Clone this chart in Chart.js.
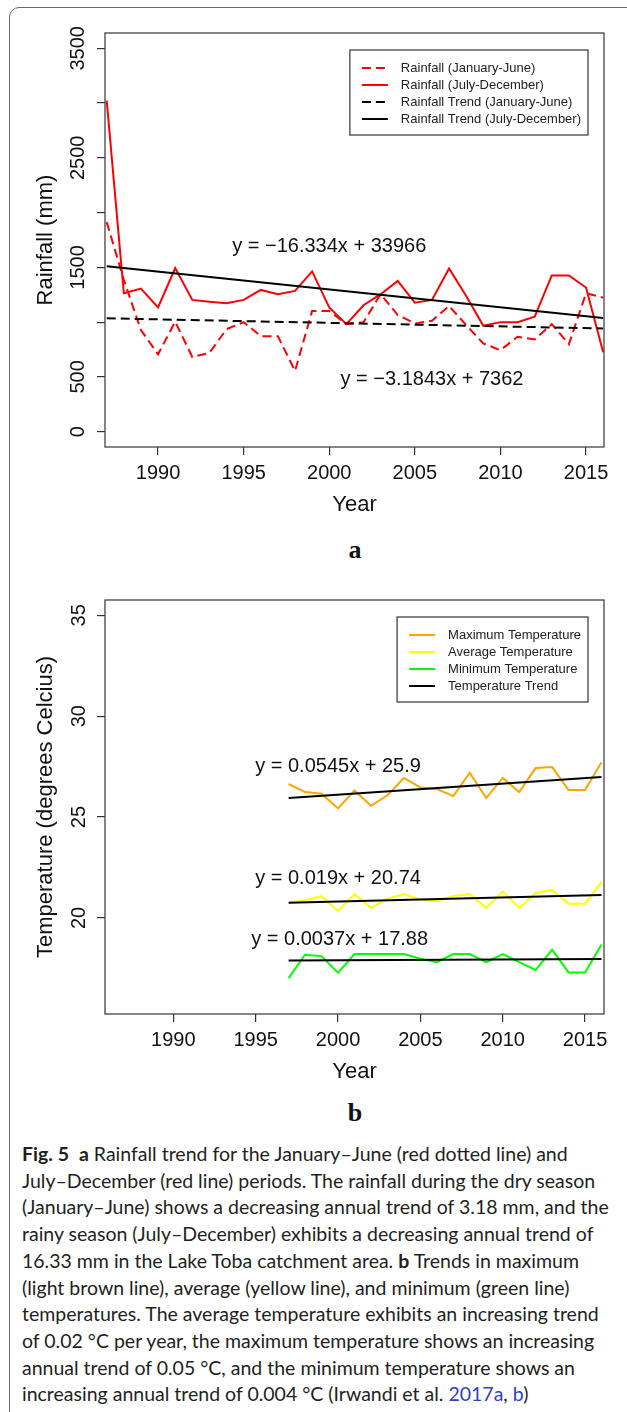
<!DOCTYPE html>
<html>
<head>
<meta charset="utf-8">
<script src="https://cdn.jsdelivr.net/npm/chart.js@4.4.1/dist/chart.umd.min.js"></script>
<style>
    html, body { margin: 0; padding: 0; background: #fff; }
    body { width: 627px; height: 1412px; position: relative; overflow: hidden; }
    .frame { position: absolute; left: 9px; top: 7px; width: 700px; height: 1500px; border: 1.5px solid #6b6b6b; border-radius: 10px; }
    .panel { position: absolute; left: 0; width: 627px; height: 520px; }
    .tag { position: absolute; left: 335px; width: 40px; line-height: 30px; text-align: center; font: bold 26px "Liberation Serif", serif; color: #111; }
    .caption { position: absolute; left: 22px; top: 1141px; font: 19.5px Lato, sans-serif; line-height: 26.7px; color: #231f20; white-space: nowrap; }
    .caption a { color: #2c3fce; text-decoration: none; }
</style>
</head>
<body>
<div class="frame"></div>
<div class="panel" style="top:0"><canvas id="rainChart"></canvas></div>
<div class="tag" style="top:535px">a</div>
<div class="panel" style="top:567px"><canvas id="tempChart"></canvas></div>
<div class="tag" style="top:1098px">b</div>
<div class="caption">
<b>Fig. 5</b>&nbsp; <b>a</b> Rainfall trend for the January–June (red dotted line) and<br>
July–December (red line) periods. The rainfall during the dry season<br>
(January–June) shows a decreasing annual trend of 3.18 mm, and the<br>
rainy season (July–December) exhibits a decreasing annual trend of<br>
16.33 mm in the Lake Toba catchment area. <b>b</b> Trends in maximum<br>
(light brown line), average (yellow line), and minimum (green line)<br>
temperatures. The average temperature exhibits an increasing trend<br>
of 0.02 °C per year, the maximum temperature shows an increasing<br>
annual trend of 0.05 °C, and the minimum temperature shows an<br>
increasing annual trend of 0.004 °C (Irwandi et al. <a>2017a</a>, <a>b</a>)
</div>
<script>
// данные осадков (мм), 1987-2016
const rainYears = [1987, 1988, 1989, 1990, 1991, 1992, 1993, 1994, 1995, 1996,
    1997, 1998, 1999, 2000, 2001, 2002, 2003, 2004, 2005, 2006,
    2007, 2008, 2009, 2010, 2011, 2012, 2013, 2014, 2015, 2016];
const rainJanJun = [1913, 1386, 927, 707, 1004, 682, 719, 936, 1000, 872,
    872, 554, 1102, 1102, 982, 998, 1255, 1065, 988, 1013,
    1148, 973, 805, 744, 866, 842, 982, 799, 1264, 1224];
const rainJulDec = [3023, 1264, 1307, 1135, 1493, 1203, 1187, 1172, 1203, 1294,
    1255, 1285, 1463, 1135, 982, 1154, 1255, 1377, 1178, 1203,
    1490, 1239, 967, 1000, 1000, 1050, 1426, 1426, 1316, 725];
const trendYearsA = [1987, 2016];
const trendJanJun = [1035, 942];
const trendJulDec = [1510, 1037];
const rainTicks = [0, 500, 1000, 1500, 2000, 2500, 3000, 3500];
const rainTickLabels = ['0', '500', '', '1500', '', '2500', '', '3500'];
const rainEq = ['y = \u221216.334x + 33966', 'y = \u22123.1843x + 7362'];

// данные температуры (°C), 1997-2016
const tempYears = [1997, 1998, 1999, 2000, 2001, 2002, 2003, 2004, 2005, 2006,
    2007, 2008, 2009, 2010, 2011, 2012, 2013, 2014, 2015, 2016];
const tempMax = [26.64, 26.24, 26.16, 25.43, 26.32, 25.56, 26.08, 26.94, 26.47, 26.39,
    26.04, 27.20, 25.94, 26.94, 26.24, 27.43, 27.48, 26.34, 26.34, 27.72];
const tempAvg = [20.76, 20.88, 21.08, 20.35, 21.18, 20.50, 20.96, 21.18, 20.91, 20.83,
    21.09, 21.18, 20.50, 21.31, 20.50, 21.24, 21.39, 20.71, 20.71, 21.79];
const tempMin = [17.02, 18.18, 18.11, 17.28, 18.21, 18.21, 18.21, 18.21, 17.98, 17.81,
    18.21, 18.21, 17.81, 18.21, 17.81, 17.42, 18.43, 17.30, 17.30, 18.69];
const trendYearsB = [1997, 2016];
const trendMax = [25.95, 26.99];
const trendAvg = [20.76, 21.14];
const trendMin = [17.89, 17.96];
const tempTicks = [20, 25, 30, 35];
const tempEq = ['y = 0.0545x + 25.9', 'y = 0.019x + 20.74', 'y = 0.0037x + 17.88'];

const yearTicks = [1990, 1995, 2000, 2005, 2010, 2015];

const FONT = "'Liberation Sans', Arial, sans-serif";
Chart.defaults.font.family = FONT;
Chart.defaults.color = '#111';

const pts = (xs, ys) => xs.map((x, i) => ({x: x, y: ys[i]}));

// рамка вокруг области графика
const frameBox = {
    id: 'frameBox',
    afterDatasetsDraw(chart) {
        const a = chart.chartArea, ctx = chart.ctx;
        ctx.save();
        ctx.strokeStyle = '#444';
        ctx.lineWidth = 1.3;
        ctx.strokeRect(a.left, a.top, a.right - a.left, a.bottom - a.top);
        ctx.restore();
    }
};

// легенда внутри графика (как в R)
const insetLegend = {
    id: 'insetLegend',
    afterDraw(chart) {
        const ctx = chart.ctx, a = chart.chartArea;
        const items = chart.data.datasets.filter(d => d.label && !d.noLegend);
        ctx.save();
        ctx.font = '13px ' + FONT;
        const textW = Math.max(...items.map(d => ctx.measureText(d.label).width));
        const w = 51 + textW + 7, h = 18 + 17 * (items.length - 1) + 16;
        const left = a.right - 16 - w, top = a.top + 17;
        ctx.fillStyle = '#fff';
        ctx.fillRect(left, top, w, h);
        ctx.strokeStyle = '#333';
        ctx.lineWidth = 1.2;
        ctx.strokeRect(left, top, w, h);
        items.forEach((d, i) => {
            const y = top + 18 + i * 17;
            ctx.beginPath();
            ctx.setLineDash(d.borderDash || []);
            ctx.strokeStyle = d.borderColor;
            ctx.lineWidth = 2;
            ctx.moveTo(left + 12, y);
            ctx.lineTo(left + 38, y);
            ctx.stroke();
            ctx.setLineDash([]);
            ctx.fillStyle = '#222';
            ctx.textBaseline = 'middle';
            ctx.fillText(d.label, left + 51, y);
        });
        ctx.restore();
    }
};

// уравнения трендов
const eqText = {
    id: 'eqText',
    afterDatasetsDraw(chart, args, opts) {
        const ctx = chart.ctx, sx = chart.scales.x, sy = chart.scales.y;
        ctx.save();
        ctx.font = '20px ' + FONT;
        ctx.fillStyle = '#111';
        ctx.textAlign = 'center';
        ctx.textBaseline = 'middle';
        opts.items.forEach(it => ctx.fillText(it.text, sx.getPixelForValue(it.x), sy.getPixelForValue(it.y)));
        ctx.restore();
    }
};

function axisX(min, max) {
    return {
        type: 'linear', min: min, max: max,
        afterBuildTicks: s => { s.ticks = yearTicks.map(v => ({value: v})); },
        afterFit: s => { s.height = 73; },
        grid: { drawOnChartArea: false, tickLength: 8, color: '#333', lineWidth: 1.2 },
        border: { display: false },
        ticks: { font: { size: 20 }, color: '#111', padding: 6, maxRotation: 0, autoSkip: false, callback: v => String(v) },
        title: { display: true, text: 'Year', font: { size: 22 }, color: '#111', padding: { top: 0, bottom: 2 } }
    };
}

function axisY(min, max, ticks, labels, pad, title) {
    return {
        type: 'linear', min: min, max: max,
        afterBuildTicks: s => { s.ticks = ticks.map(v => ({value: v})); },
        afterFit: s => { s.width = 105; },
        grid: { drawOnChartArea: false, tickLength: 8, color: '#333', lineWidth: 1.2 },
        border: { display: false },
        ticks: {
            font: { size: 20 }, color: '#111', autoSkip: false,
            minRotation: 90, maxRotation: 90, crossAlign: 'center', padding: pad,
            callback: v => labels[ticks.indexOf(v)]
        },
        title: { display: true, text: title, font: { size: 22 }, color: '#111', padding: { top: 33, bottom: 0 } }
    };
}

const line = (label, data, color, dash, order) => ({
    label: label, data: data, borderColor: color, backgroundColor: color,
    borderWidth: 2, borderDash: dash, pointRadius: 0, tension: 0, fill: false, order: order
});

new Chart(document.getElementById('rainChart'), {
    type: 'line',
    data: {
        datasets: [
            line('Rainfall (January-June)', pts(rainYears, rainJanJun), '#ff0000', [9, 5], 1),
            line('Rainfall (July-December)', pts(rainYears, rainJulDec), '#ff0000', [], 1),
            line('Rainfall Trend (January-June)', pts(trendYearsA, trendJanJun), '#000', [9, 5], 0),
            line('Rainfall Trend (July-December)', pts(trendYearsA, trendJulDec), '#000', [], 0)
        ]
    },
    options: {
        responsive: true,
        maintainAspectRatio: false,
        animation: false,
        layout: { padding: { top: 33, right: 23, left: 0, bottom: 0 } },
        scales: {
            x: axisX(1986.9, 2016.05),
            y: axisY(-140, 3640, rainTicks, rainTickLabels, -4, 'Rainfall (mm)')
        },
        plugins: {
            legend: { display: false },
            tooltip: { enabled: false },
            eqText: { items: [
                { text: rainEq[0], x: 2000, y: 1690 },
                { text: rainEq[1], x: 2006, y: 477 }
            ] }
        }
    },
    plugins: [frameBox, insetLegend, eqText]
});

new Chart(document.getElementById('tempChart'), {
    type: 'line',
    data: {
        datasets: [
            line('Maximum Temperature', pts(tempYears, tempMax), '#ffa500', [], 1),
            line('Average Temperature', pts(tempYears, tempAvg), '#ffff00', [], 1),
            line('Minimum Temperature', pts(tempYears, tempMin), '#00ff00', [], 1),
            line('Temperature Trend', pts(trendYearsB, trendMax), '#000', [], 0),
            Object.assign(line('Temperature Trend', pts(trendYearsB, trendAvg), '#000', [], 0), { noLegend: true }),
            Object.assign(line('Temperature Trend', pts(trendYearsB, trendMin), '#000', [], 0), { noLegend: true })
        ]
    },
    options: {
        responsive: true,
        maintainAspectRatio: false,
        animation: false,
        layout: { padding: { top: 33, right: 23, left: 0, bottom: 0 } },
        scales: {
            x: axisX(1985.85, 2016.15),
            y: axisY(15.24, 35.76, tempTicks, tempTicks.map(String), 6, 'Temperature (degrees Celcius)')
        },
        plugins: {
            legend: { display: false },
            tooltip: { enabled: false },
            eqText: { items: [
                { text: tempEq[0], x: 2000, y: 27.49 },
                { text: tempEq[1], x: 2000, y: 21.95 },
                { text: tempEq[2], x: 2000.1, y: 18.93 }
            ] }
        }
    },
    plugins: [frameBox, insetLegend, eqText]
});
</script>
</body>
</html>
